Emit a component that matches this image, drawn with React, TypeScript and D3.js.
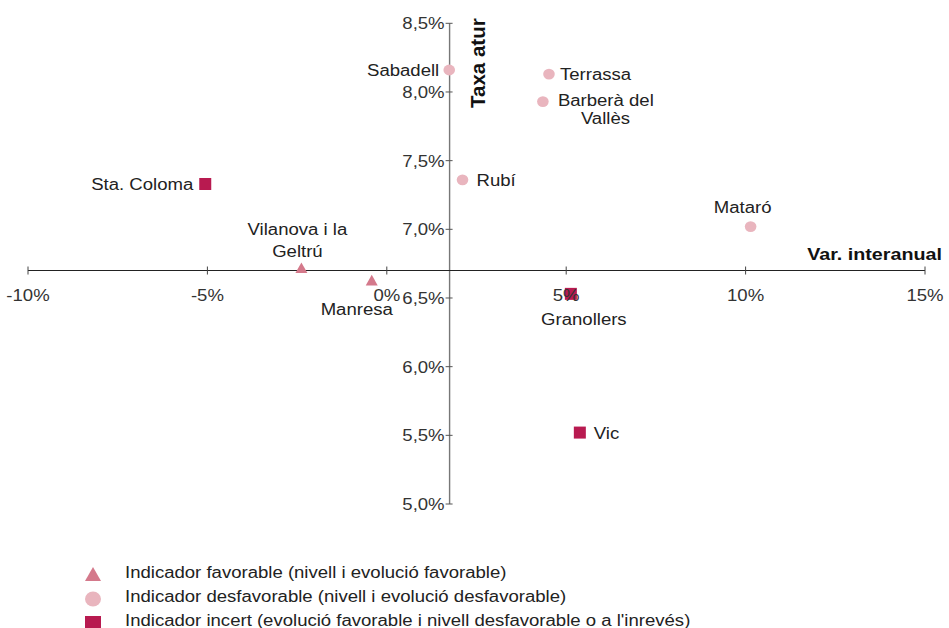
import React from 'react';
import * as d3 from 'd3';

// chart values
const cities = ['Sabadell', 'Terrassa', 'Barberà del Vallès', 'Rubí', 'Mataró', 'Sta. Coloma', 'Vilanova i la Geltrú', 'Manresa', 'Granollers', 'Vic'];
const varInteranual = [1.74, 4.52, 4.35, 2.11, 10.14, -5.06, -2.38, -0.42, 5.13, 5.38];
const taxaAtur = [8.16, 8.13, 7.93, 7.36, 7.02, 7.33, 6.72, 6.63, 6.53, 5.52];
const indicador = ['desfav', 'desfav', 'desfav', 'desfav', 'desfav', 'incert', 'fav', 'fav', 'incert', 'incert'];

const xTicks = [-10, -5, 0, 5, 10, 15];
const xTickLabels = ['-10%', '-5%', '0%', '5%', '10%', '15%'];
const yTicks = [5, 5.5, 6, 6.5, 7, 7.5, 8, 8.5];
const yTickLabels = ['5,0%', '5,5%', '6,0%', '6,5%', '7,0%', '7,5%', '8,0%', '8,5%'];

// where the two axes cross
const xCross = 1.75;
const yCross = 6.7;

const legendKeys = ['fav', 'desfav', 'incert'];
const legendLabels = [
  'Indicador favorable (nivell i evolució favorable)',
  'Indicador desfavorable (nivell i evolució desfavorable)',
  "Indicador incert (evolució favorable i nivell desfavorable o a l'inrevés)",
];

const COLORS: Record<string, string> = { fav: '#d4798b', desfav: '#e9b5be', incert: '#b81a50' };
const FONT = '"Liberation Sans", Arial, Helvetica, sans-serif';
const SX = 1.16; // the reference text is a little wide

// label placement per city: lines with offsets from the mark
const labelPos: Record<string, { lines: string[]; dx: number[]; dy: number[]; anchor: string }> = {
  'Sabadell': { lines: ['Sabadell'], dx: [-10], dy: [6], anchor: 'end' },
  'Terrassa': { lines: ['Terrassa'], dx: [11], dy: [6], anchor: 'start' },
  'Barberà del Vallès': { lines: ['Barberà del', 'Vallès'], dx: [15, 38], dy: [4, 22], anchor: 'start' },
  'Rubí': { lines: ['Rubí'], dx: [14], dy: [6], anchor: 'start' },
  'Mataró': { lines: ['Mataró'], dx: [-8], dy: [-14], anchor: 'middle' },
  'Sta. Coloma': { lines: ['Sta. Coloma'], dx: [-12], dy: [6], anchor: 'end' },
  'Vilanova i la Geltrú': { lines: ['Vilanova i la', 'Geltrú'], dx: [-4, -4], dy: [-33, -11], anchor: 'middle' },
  'Manresa': { lines: ['Manresa'], dx: [-15], dy: [35], anchor: 'middle' },
  'Granollers': { lines: ['Granollers'], dx: [13], dy: [31], anchor: 'middle' },
  'Vic': { lines: ['Vic'], dx: [14], dy: [6], anchor: 'start' },
};

function Txt({ x, y, anchor = 'start', size = 16, weight = 'normal', fill = '#222', children }: any) {
  return (
    <text transform={`translate(${x},${y}) scale(${SX},1)`} textAnchor={anchor} fontSize={size}
      fontWeight={weight} fill={fill} fontFamily={FONT}>{children}</text>
  );
}

function Marker({ kind, cx, cy, s }: { kind: string; cx: number; cy: number; s: number }) {
  const c = COLORS[kind];
  if (kind === 'desfav') return <ellipse cx={cx} cy={cy} rx={s / 2} ry={s / 2 * 0.93} fill={c} />;
  if (kind === 'incert') return <rect x={cx - s / 2} y={cy - s / 2} width={s} height={s} fill={c} />;
  const h = s * 0.88;
  return <path d={`M${cx},${cy - h / 2}L${cx + s / 2},${cy + h / 2}L${cx - s / 2},${cy + h / 2}Z`} fill={c} />;
}

export default function App() {
  const W = 949, H = 628;
  const x = d3.scaleLinear().domain([-10, 15]).range([28, 925]);
  const y = d3.scaleLinear().domain([5, 8.5]).range([504, 23.3]);
  const ax = x(xCross);
  const ay = y(yCross);

  return (
    <svg width={W} height={H} style={{ position: 'absolute', left: 0, top: 0, background: '#fff' }}>
      {/* y axis */}
      <line x1={ax} x2={ax} y1={y(8.5)} y2={y(5)} stroke="#777" strokeWidth={1.4} />
      {yTicks.map(t => (
        <line key={'yt' + t} x1={ax - 4} x2={ax + 3} y1={y(t)} y2={y(t)} stroke="#555" strokeWidth={1} />
      ))}
      {/* x axis */}
      <line x1={x(-10)} x2={x(15)} y1={ay} y2={ay} stroke="#222" strokeWidth={1.2} />
      {xTicks.map(t => (
        <line key={'xt' + t} x1={x(t)} x2={x(t)} y1={ay - 4} y2={ay + 4} stroke="#444" strokeWidth={1} />
      ))}

      {/* points */}
      {cities.map((c, i) => (
        <Marker key={c} kind={indicador[i]} cx={x(varInteranual[i])} cy={y(taxaAtur[i])}
          s={indicador[i] === 'desfav' ? 11.6 : 12} />
      ))}

      {/* point labels */}
      {cities.map((c, i) => {
        const p = labelPos[c];
        return p.lines.map((ln, j) => (
          <Txt key={c + j} x={x(varInteranual[i]) + p.dx[j]} y={y(taxaAtur[i]) + p.dy[j]} anchor={p.anchor}>{ln}</Txt>
        ));
      })}

      {/* tick labels */}
      {yTicks.map((t, i) => (
        <Txt key={'yl' + t} x={ax - 5} y={y(t) + 6} anchor="end" fill="#333">{yTickLabels[i]}</Txt>
      ))}
      {xTicks.map((t, i) => (
        <Txt key={'xl' + t} x={x(t)} y={ay + 30} anchor="middle" fill="#333">{xTickLabels[i]}</Txt>
      ))}

      {/* axis titles */}
      <Txt x={942} y={ay - 11} anchor="end" size={17} weight="bold" fill="#111">Var. interanual</Txt>
      <text transform={`translate(${ax + 35},${y(8.5) - 5}) rotate(-90)`} textAnchor="end"
        fontSize={20.5} fontWeight="bold" fill="#111" fontFamily={FONT}>Taxa atur</text>

      {/* legend */}
      {legendKeys.map((k, i) => (
        <g key={k}>
          <Marker kind={k} cx={93} cy={574 + i * 25} s={16} />
          <Txt x={125} y={578 + i * 24}>{legendLabels[i]}</Txt>
        </g>
      ))}
    </svg>
  );
}
